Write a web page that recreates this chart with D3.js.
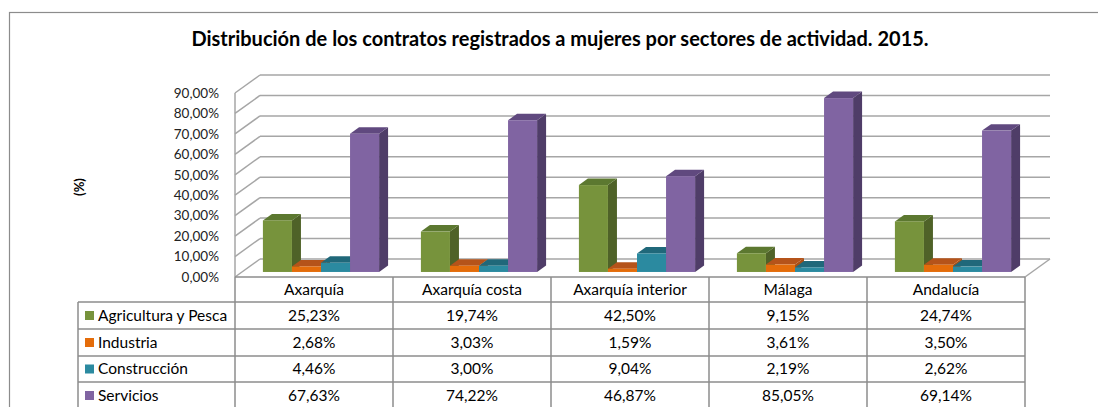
<!DOCTYPE html>
<html>
<head>
<meta charset="utf-8">
<script src="https://cdn.jsdelivr.net/npm/d3@7"></script>
<style>
  body { margin: 0; background: #fff; }
  svg { display: block; font-family: Lato, "Open Sans", sans-serif; }
</style>
</head>
<body>
<script>
const categories = ["Axarquía", "Axarquía costa", "Axarquía interior", "Málaga", "Andalucía"];
const series = ["Agricultura y Pesca", "Industria", "Construcción", "Servicios"];
const agricultura = [25.23, 19.74, 42.5, 9.15, 24.74];
const industria = [2.68, 3.03, 1.59, 3.61, 3.5];
const construccion = [4.46, 3.0, 9.04, 2.19, 2.62];
const servicios = [67.63, 74.22, 46.87, 85.05, 69.14];
const yTicks = [0, 10, 20, 30, 40, 50, 60, 70, 80, 90];

const values = [agricultura, industria, construccion, servicios];
const colors = {
  front: ["#77933c", "#e46c0a", "#2b8aa0", "#8064a2"],
  side: ["#4f6228", "#a84f14", "#1d6272", "#4f3d68"],
  top: ["#5c7830", "#b5531a", "#20687a", "#60497f"],
};

const width = 1098;
const height = 407;
const depth = { dx: 25, dy: -18 };

const locale = d3.formatLocale({ decimal: ",", thousands: ".", grouping: [3], currency: ["", "€"] });
const fmt = locale.format(".2f");

const svg = d3.select("body").append("svg").attr("width", width).attr("height", height);

// outer frame
svg.append("rect")
  .attr("x", 9.5).attr("y", 12.5)
  .attr("width", 1200).attr("height", 500)
  .attr("fill", "none").attr("stroke", "#8c8c8c").attr("stroke-width", 1.2);

svg.append("text")
  .attr("x", 560).attr("y", 46)
  .attr("text-anchor", "middle")
  .attr("font-weight", "bold")
  .attr("font-size", 20)
  .attr("fill", "#000")
  .text("Distribución de los contratos registrados a mujeres por sectores de actividad. 2015.");

const x = d3.scaleBand().domain(categories).range([235, 1025]);
const y = d3.scaleLinear().domain([0, 90]).range([277, 93]);
const xs = d3.scaleBand().domain(series).range([0, x.bandwidth()]).paddingInner(0).paddingOuter(0.72);

const grid = svg.append("g").attr("fill", "none").attr("stroke", "#a6a6a6").attr("stroke-width", 1.5);

// back wall grid lines
yTicks.forEach((t) => {
  grid.append("line")
    .attr("x1", 235 + depth.dx).attr("x2", 1025 + depth.dx)
    .attr("y1", y(t) + depth.dy).attr("y2", y(t) + depth.dy);
  grid.append("line")
    .attr("x1", 235).attr("x2", 235 + depth.dx)
    .attr("y1", y(t)).attr("y2", y(t) + depth.dy);
});
// left wall front edge
grid.append("line").attr("x1", 235).attr("x2", 235).attr("y1", y(90)).attr("y2", y(0));
// floor right edge
grid.append("line")
  .attr("x1", 1025).attr("x2", 1025 + depth.dx)
  .attr("y1", y(0)).attr("y2", y(0) + depth.dy);

// y tick labels
svg.append("g")
  .selectAll("text")
  .data(yTicks)
  .join("text")
  .attr("x", 219)
  .attr("y", (d) => y(d))
  .attr("dy", "0.35em")
  .attr("text-anchor", "end")
  .attr("font-size", 13.5)
  .attr("fill", "#222")
  .text((d) => fmt(d) + "%");

svg.append("text")
  .attr("transform", "translate(84,187) rotate(-90)")
  .attr("text-anchor", "middle")
  .attr("font-weight", "bold")
  .attr("font-size", 13)
  .text("(%)");

// bars
const f0 = 0.28;
const f1 = 0.64;
const bars = svg.append("g");
categories.forEach((c, ci) => {
  series.forEach((s, si) => {
    const v = values[si][ci];
    const ox = depth.dx * f0;
    const oy = depth.dy * f0;
    const bx = (depth.dx) * (f1 - f0);
    const by = (depth.dy) * (f1 - f0);
    const x0 = x(c) + xs(s) + ox;
    const x1 = x0 + xs.bandwidth();
    const yb = y(0) + oy;
    const yt = y(v) + oy;
    bars.append("path")
      .attr("d", `M${x1},${yb}L${x1 + bx},${yb + by}L${x1 + bx},${yt + by}L${x1},${yt}Z`)
      .attr("fill", colors.side[si]);
    bars.append("path")
      .attr("d", `M${x0},${yt}L${x1},${yt}L${x1 + bx},${yt + by}L${x0 + bx},${yt + by}Z`)
      .attr("fill", colors.top[si]);
    bars.append("rect")
      .attr("x", x0).attr("y", yt)
      .attr("width", xs.bandwidth()).attr("height", yb - yt)
      .attr("fill", colors.front[si]);
  });
});

// data table
const rowTop = [277, 302, 329, 356, 382, 409];
const legendLeft = 78;
const table = svg.append("g").attr("stroke", "#8c8c8c").attr("stroke-width", 1.5);
table.append("line").attr("x1", 235).attr("x2", 1025).attr("y1", rowTop[0]).attr("y2", rowTop[0]);
rowTop.slice(1, 5).forEach((r) => {
  table.append("line").attr("x1", legendLeft).attr("x2", 1025).attr("y1", r).attr("y2", r);
});
table.append("line").attr("x1", legendLeft).attr("x2", legendLeft).attr("y1", rowTop[1]).attr("y2", height + 2);
categories.concat([null]).forEach((c, i) => {
  const xx = c ? x(c) : x.range()[1];
  table.append("line").attr("x1", xx).attr("x2", xx).attr("y1", rowTop[0]).attr("y2", height + 2);
});

svg.append("g")
  .selectAll("text")
  .data(categories)
  .join("text")
  .attr("x", (d) => x(d) + x.bandwidth() / 2)
  .attr("y", (rowTop[0] + rowTop[1]) / 2)
  .attr("dy", "0.35em")
  .attr("text-anchor", "middle")
  .attr("font-size", 15.5)
  .text((d) => d);

series.forEach((s, si) => {
  const cy = (rowTop[si + 1] + rowTop[si + 2]) / 2;
  svg.append("rect")
    .attr("x", 85).attr("y", cy - 4.5)
    .attr("width", 9).attr("height", 9)
    .attr("fill", colors.front[si]);
  svg.append("text")
    .attr("x", 98).attr("y", cy)
    .attr("dy", "0.35em")
    .attr("font-size", 15.5)
    .text(s);
  svg.append("g")
    .selectAll("text")
    .data(values[si])
    .join("text")
    .attr("x", (d, ci) => x(categories[ci]) + x.bandwidth() / 2)
    .attr("y", cy)
    .attr("dy", "0.35em")
    .attr("text-anchor", "middle")
    .attr("font-size", 15.5)
    .text((d) => fmt(d) + "%");
});
</script>
</body>
</html>
